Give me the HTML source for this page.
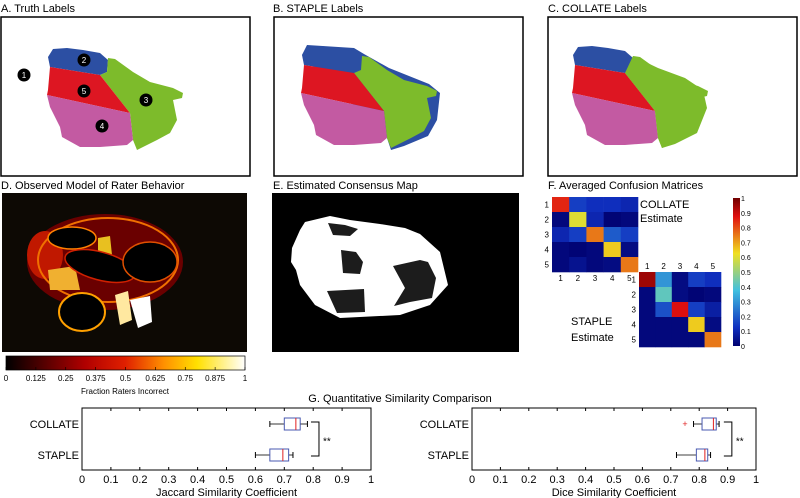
<!DOCTYPE html>
<html><head><meta charset="utf-8">
<style>
body{margin:0;background:#fff;font-family:"Liberation Sans",sans-serif;}
svg{display:block}
text{font-family:"Liberation Sans",sans-serif;}
</style></head>
<body>
<svg id="fig" width="800" height="498" viewBox="0 0 800 498">
<defs>
<linearGradient id="hot" x1="0" x2="1" y1="0" y2="0">
<stop offset="0" stop-color="#000"/><stop offset="0.33" stop-color="#b00000"/><stop offset="0.5" stop-color="#e02000"/><stop offset="0.66" stop-color="#ff9000"/><stop offset="0.8" stop-color="#ffe000"/><stop offset="1" stop-color="#fff"/>
</linearGradient>
<linearGradient id="jet" x1="0" x2="0" y1="1" y2="0">
<stop offset="0" stop-color="#00006f"/><stop offset="0.125" stop-color="#1030c0"/><stop offset="0.375" stop-color="#40c0e0"/><stop offset="0.625" stop-color="#f0e020"/><stop offset="0.875" stop-color="#e01010"/><stop offset="1" stop-color="#700000"/>
</linearGradient>
<g id="brain">
<polygon points="48,57 53,49 67,48 83,50 100,53 108,60 107,72 100,75 50,67" fill="#2c4fa3"/>
<polygon points="108,58 115,59 133,72 150,82 173,88 183,93 182,98 173,100 177,120 170,133 157,140 143,147 137,150 133,140 130,113 100,75 107,72" fill="#7dbb2b"/>
<polygon points="50,67 100,75 130,113 47,95 48,90" fill="#dd1622"/>
<polygon points="47,95 130,113 133,140 127,145 100,147 80,147 62,137 60,127 50,107" fill="#c35aa2"/>
</g>
</defs>

<text x="1" y="12" font-size="11">A. Truth Labels</text>
<text x="273" y="12" font-size="11">B. STAPLE Labels</text>
<text x="548" y="12" font-size="11">C. COLLATE Labels</text>

<g>
<rect x="1" y="17" width="249" height="159" fill="#fff" stroke="#000" stroke-width="1.5"/>
<use href="#brain"/>
<g fill="#000"><circle cx="24" cy="75" r="6.5"/><circle cx="84" cy="60" r="6.5"/><circle cx="84" cy="91" r="6.5"/><circle cx="146" cy="100" r="6.5"/><circle cx="102" cy="126" r="6.5"/></g>
<g fill="#fff" font-size="8" text-anchor="middle"><text x="24" y="78">1</text><text x="84" y="63">2</text><text x="84" y="94">5</text><text x="146" y="103">3</text><text x="102" y="129">4</text></g>
</g>
<g>
<rect x="274" y="17" width="249" height="159" fill="#fff" stroke="#000" stroke-width="1.5"/>
<g transform="translate(254,-2)"><polygon points="48,57 53,47 100,50 110,56 135,70 175,86 186,95 183,122 174,138 150,148 137,152 133,140" fill="#2c4fa3"/><use href="#brain"/></g>
</g>
<g>
<rect x="548" y="17" width="249" height="159" fill="#fff" stroke="#000" stroke-width="1.5"/>
<g transform="translate(525,-2)"><use href="#brain"/><polygon points="108,58 133,70 160,80 178,92 182,110 172,135 150,146 137,150 133,140 130,113 100,75" fill="#7dbb2b"/></g>
</g>

<text x="1" y="189" font-size="11">D. Observed Model of Rater Behavior</text>
<g>
<rect x="2" y="193" width="245" height="159" fill="#0d0904"/>
<ellipse cx="105" cy="262" rx="78" ry="48" fill="#6a0000"/>
<ellipse cx="45" cy="255" rx="18" ry="24" fill="#c01800"/>
<ellipse cx="108" cy="260" rx="70" ry="42" fill="none" stroke="#f07000" stroke-width="2"/>
<polygon points="48,270 75,266 80,290 50,290" fill="#f0b030"/>
<polygon points="98,238 110,236 112,255 98,256" fill="#e8c020"/>
<polygon points="115,295 128,291 132,320 120,325" fill="#ffe8a0"/>
<polygon points="130,300 150,296 152,322 138,328" fill="#fff"/>
<ellipse cx="72" cy="238" rx="24" ry="11" fill="#000" stroke="#ff8000" stroke-width="1.5"/>
<ellipse cx="100" cy="266" rx="36" ry="14" transform="rotate(15 100 266)" fill="#000" stroke="#d02000" stroke-width="1.5"/>
<ellipse cx="150" cy="262" rx="27" ry="20" fill="#000" stroke="#e05000" stroke-width="1.5"/>
<ellipse cx="82" cy="312" rx="23" ry="19" fill="#000" stroke="#ffa000" stroke-width="2"/>
</g>
<g>
<rect x="6" y="356" width="239" height="14" fill="url(#hot)" stroke="#000" stroke-width="0.7"/>
<g id="hotTicks" font-size="8" text-anchor="middle"></g>
<text x="125" y="394" font-size="8" text-anchor="middle">Fraction Raters Incorrect</text>
</g>

<text x="273" y="189" font-size="11">E. Estimated Consensus Map</text>
<g>
<rect x="272" y="193" width="247" height="159" fill="#000"/>
<polygon points="300,230 305,222 330,216 350,220 380,224 405,228 420,234 440,252 448,285 430,305 400,315 340,318 315,305 300,285 296,270 291,262 292,248" fill="#fff"/>
<g fill="#1c1c1c">
<polygon points="328,223 345,225 358,229 350,236 333,235"/>
<polygon points="341,250 356,252 363,262 360,274 343,273"/>
<polygon points="327,291 364,289 365,312 337,313"/>
<polygon points="393,266 420,260 428,262 436,278 432,298 410,302 394,306 405,288"/>
</g>
</g>

<text x="548" y="189" font-size="11">F. Averaged Confusion Matrices</text>
<g id="confCollate"></g>
<g id="confStaple"></g>
<text x="640" y="208" font-size="11">COLLATE</text>
<text x="640" y="222" font-size="11">Estimate</text>
<text x="571" y="325" font-size="11">STAPLE</text>
<text x="571" y="341" font-size="11">Estimate</text>
<g>
<rect x="733" y="198" width="7" height="148" fill="url(#jet)"/>
<g id="jetTicks" font-size="7"></g>
</g>

<text x="400" y="402" font-size="11" text-anchor="middle">G. Quantitative Similarity Comparison</text>
<g id="boxLeft"></g>
<g id="boxRight"></g>
</svg>
<script>
const hotTickLabels=["0","0.125","0.25","0.375","0.5","0.625","0.75","0.875","1"];
const collateMatrix=[[0.85,0.15,0.12,0.12,0.1],[0.02,0.6,0.1,0.01,0.02],[0.1,0.15,0.75,0.2,0.15],[0.02,0.01,0.02,0.65,0.03],[0.02,0.05,0.02,0.03,0.75]];
const stapleMatrix=[[0.95,0.3,0.03,0.15,0.12],[0.02,0.42,0.03,0.01,0.02],[0.02,0.18,0.88,0.15,0.08],[0.02,0.02,0.02,0.65,0.03],[0.02,0.02,0.02,0.02,0.75]];
const jetTickLabels=["0","0.1","0.2","0.3","0.4","0.5","0.6","0.7","0.8","0.9","1"];
const boxCategories=["COLLATE","STAPLE"];
const jaccardStats=[[0.65,0.70,0.74,0.755,0.78],[0.60,0.65,0.695,0.715,0.73]];
const diceStats=[[0.78,0.81,0.85,0.86,0.87],[0.72,0.79,0.82,0.83,0.84]];
const diceOutliers=[[0.75],[]];
const axisTicks=[0,0.1,0.2,0.3,0.4,0.5,0.6,0.7,0.8,0.9,1];
const NS="http://www.w3.org/2000/svg";
function mk(tag,attrs,parent,txt){const e=document.createElementNS(NS,tag);for(const k in attrs)e.setAttribute(k,attrs[k]);if(txt!==undefined)e.textContent=txt;parent.appendChild(e);return e;}
function jet(v){const stops=[[0,[0,0,111]],[0.125,[16,48,192]],[0.375,[64,192,224]],[0.625,[240,224,32]],[0.875,[224,16,16]],[1,[112,0,0]]];
 for(let i=1;i<stops.length;i++){if(v<=stops[i][0]){const a=stops[i-1],b=stops[i],t=(v-a[0])/(b[0]-a[0]);return "rgb("+a[1].map((c,j)=>Math.round(c+(b[1][j]-c)*t)).join(",")+")";}}return "rgb(112,0,0)";}
const ht=document.getElementById('hotTicks');
hotTickLabels.forEach((l,i)=>{const x=6+239*i/(hotTickLabels.length-1);
 const t=mk('text',{x:x,y:381},ht,l);
 
 
 mk('line',{x1:x,x2:x,y1:367,y2:370,stroke:'#000','stroke-width':0.6},ht);});
function drawMatrix(g,m,x0,y0,w,h,labelsTop){const n=m.length,cw=w/n,ch=h/n;
 m.forEach((row,r)=>row.forEach((v,c)=>{const rc=mk('rect',{x:x0+c*cw,y:y0+r*ch,width:cw+0.3,height:ch+0.3,fill:jet(v)},g);
  
  }));
 for(let i=0;i<n;i++){mk('text',{x:x0-3,y:y0+(i+0.5)*ch+3,'font-size':8,'text-anchor':'end'},g,String(i+1));
  mk('text',{x:x0+(i+0.5)*cw,y:labelsTop?y0-3:y0+h+9,'font-size':8,'text-anchor':'middle'},g,String(i+1));}}
drawMatrix(document.getElementById('confCollate'),collateMatrix,552,197,86,75,false);
drawMatrix(document.getElementById('confStaple'),stapleMatrix,639,272,82,75,true);
const jt=document.getElementById('jetTicks');
jetTickLabels.forEach((l,i)=>{const y=346-148*i/(jetTickLabels.length-1);
 const t=mk('text',{x:741,y:y+3},jt,l);
 
 });
function drawBox(g,x0,x1,stats,outl,title,brk){const y0=408,y1=470;const sx=v=>x0+(x1-x0)*v;
 mk('rect',{x:x0,y:y0,width:x1-x0,height:y1-y0,fill:'#fff',stroke:'#000','stroke-width':1},g);
 axisTicks.forEach(v=>{const x=sx(v);mk('line',{x1:x,x2:x,y1:y1,y2:y1-3,stroke:'#000'},g);mk('line',{x1:x,x2:x,y1:y0,y2:y0+3,stroke:'#000'},g);
  mk('text',{x:x,y:483,'font-size':11,'text-anchor':'middle'},g,String(v));});
 mk('text',{x:(x0+x1)/2,y:496,'font-size':11,'text-anchor':'middle'},g,title);
 const ys=[424,455];
 stats.forEach((s,i)=>{const y=ys[i];mk('text',{x:x0-3,y:y+4,'font-size':11,'text-anchor':'end'},g,boxCategories[i]);
  mk('line',{x1:sx(s[0]),x2:sx(s[1]),y1:y,y2:y,stroke:'#000','stroke-width':0.8},g);
  mk('line',{x1:sx(s[3]),x2:sx(s[4]),y1:y,y2:y,stroke:'#000','stroke-width':0.8},g);
  mk('line',{x1:sx(s[0]),x2:sx(s[0]),y1:y-3,y2:y+3,stroke:'#000'},g);
  mk('line',{x1:sx(s[4]),x2:sx(s[4]),y1:y-3,y2:y+3,stroke:'#000'},g);
  const b=mk('rect',{x:sx(s[1]),y:y-6,width:sx(s[3])-sx(s[1]),height:12,fill:'#fff',stroke:'#4a5ab0','stroke-width':1},g);
  
  
  mk('line',{x1:sx(s[2]),x2:sx(s[2]),y1:y-6,y2:y+6,stroke:'#e02020','stroke-width':1},g);
  (outl&&outl[i]||[]).forEach(o=>mk('text',{x:sx(o),y:y+3,'font-size':9,fill:'#e02020','text-anchor':'middle'},g,'+'));});
 const bx=sx(brk);mk('path',{d:`M${bx-8},${ys[0]-2} H${bx} V${ys[1]+1} H${bx-8}`,fill:'none',stroke:'#000'},g);
 mk('text',{x:bx+4,y:(ys[0]+ys[1])/2+5,'font-size':10},g,'**');}
drawBox(document.getElementById('boxLeft'),82,371,jaccardStats,null,'Jaccard Similarity Coefficient',0.82);
drawBox(document.getElementById('boxRight'),472,756,diceStats,diceOutliers,'Dice Similarity Coefficient',0.915);
</script>
</body></html>
